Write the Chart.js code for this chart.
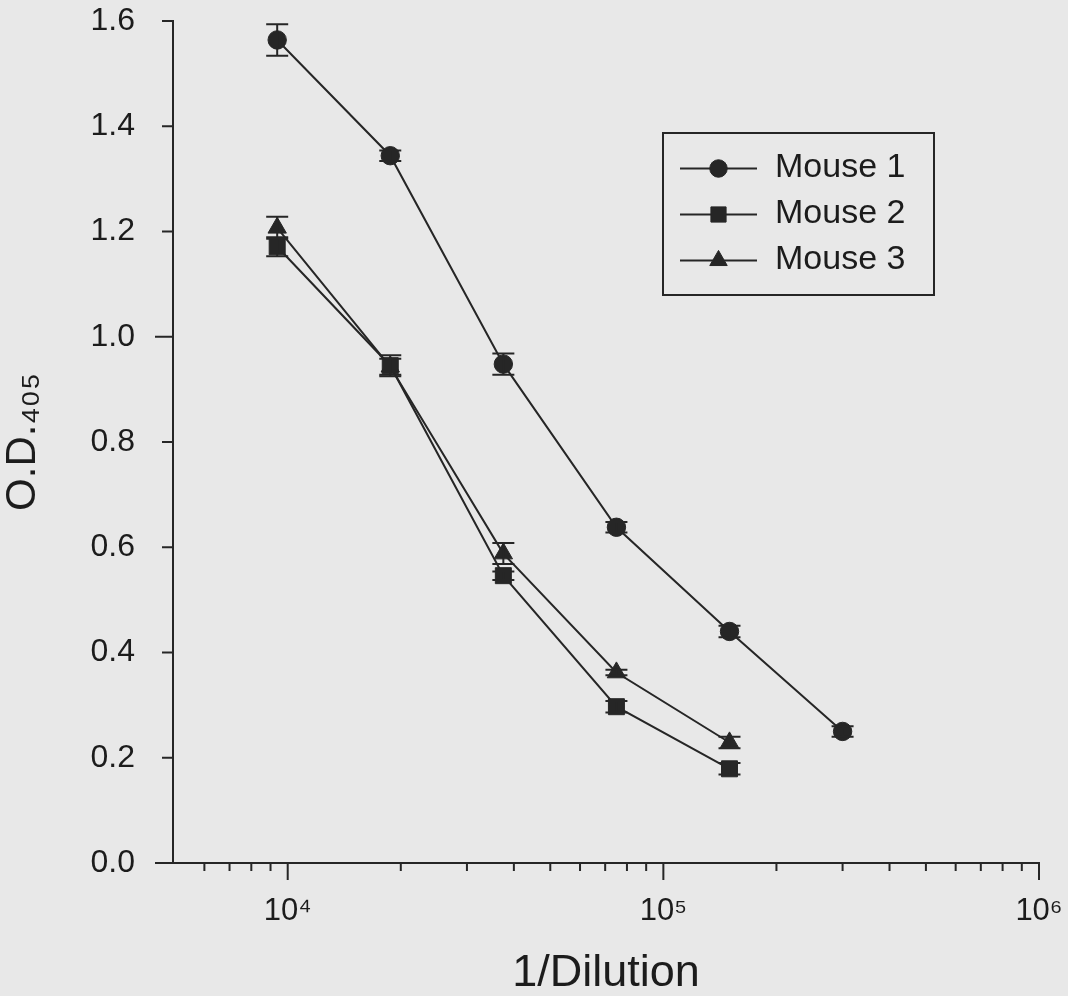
<!DOCTYPE html>
<html>
<head>
<meta charset="utf-8">
<script src="https://cdn.jsdelivr.net/npm/chart.js@4/dist/chart.umd.min.js"></script>
<style>
html,body{margin:0;padding:0;background:#e8e8e8;}
#wrap{width:1068px;height:996px;position:relative;}
</style>
</head>
<body>
<div id="wrap"><canvas id="c" width="1068" height="996"></canvas></div>
<script>
// ---------- data ----------
const dilutions = [9375, 18750, 37500, 75000, 150000, 300000];
const seriesNames = ['Mouse 1', 'Mouse 2', 'Mouse 3'];
const mouse1 = [1.564, 1.344, 0.948, 0.638, 0.440, 0.250];
const mouse1Err = [0.030, 0.010, 0.020, 0.010, 0.011, 0.010];
const mouse2 = [1.171, 0.945, 0.546, 0.297, 0.179];
const mouse2Err = [0.018, 0.020, 0.008, 0.011, 0.011];
const mouse3 = [1.207, 0.943, 0.588, 0.362, 0.229];
const mouse3Err = [0.021, 0.015, 0.020, 0.005, 0.011];
const xTickValues = [6000, 7000, 8000, 9000, 10000, 20000, 30000, 40000, 50000, 60000, 70000, 80000, 90000,
  100000, 200000, 300000, 400000, 500000, 600000, 700000, 800000, 900000, 1000000];
const xMajorTicks = [10000, 100000, 1000000];
const xTickLabels = ['10⁴', '10⁵', '10⁶'];
const yTickValues = [0, 0.2, 0.4, 0.6, 0.8, 1.0, 1.2, 1.4, 1.6];
const yLongTicks = [0, 1.0];
const xTitle = '1/Dilution';
const yTitle = 'O.D.₄₀₅';

// ---------- styles ----------
const INK = '#262626';
const TEXT = '#1c1c1c';
const FONT = "'Liberation Sans', Arial, Helvetica, sans-serif";
const markerStyles = [
  {pointStyle: 'circle', radius: 9.2},
  {pointStyle: 'rect', radius: 11.3},
  {pointStyle: 'triangle', radius: 10.6}
];

function toPoints(ys) { return ys.map((y, i) => ({x: dilutions[i], y: y})); }
const seriesValues = [mouse1, mouse2, mouse3];
const seriesErrors = [mouse1Err, mouse2Err, mouse3Err];

const datasets = seriesNames.map((name, k) => ({
  label: name,
  data: toPoints(seriesValues[k]),
  errors: seriesErrors[k],
  borderColor: INK,
  backgroundColor: INK,
  borderWidth: 2,
  pointStyle: markerStyles[k].pointStyle,
  pointRadius: markerStyles[k].radius,
  pointHoverRadius: markerStyles[k].radius,
  pointBackgroundColor: INK,
  pointBorderColor: INK,
  pointBorderWidth: 1,
  tension: 0,
  fill: false,
  clip: false
}));

// ---------- plugins ----------
const bgPlugin = {
  id: 'bg',
  beforeDraw(chart) {
    const ctx = chart.ctx;
    ctx.save();
    ctx.fillStyle = '#e8e8e8';
    ctx.fillRect(0, 0, chart.width, chart.height);
    ctx.restore();
  }
};

const tickMarkPlugin = {
  id: 'tickMarks',
  afterDraw(chart) {
    const ctx = chart.ctx;
    const xs = chart.scales.x, ys = chart.scales.y;
    const area = chart.chartArea;
    ctx.save();
    ctx.strokeStyle = INK;
    ctx.lineWidth = 2;
    ctx.beginPath();
    xTickValues.forEach(v => {
      const px = xs.getPixelForValue(v);
      const len = xMajorTicks.includes(v) ? 17 : 8;
      ctx.moveTo(px, area.bottom);
      ctx.lineTo(px, area.bottom + len);
    });
    yTickValues.forEach(v => {
      const py = ys.getPixelForValue(v);
      const len = yLongTicks.includes(v) ? 18 : 11;
      ctx.moveTo(area.left - len, py);
      ctx.lineTo(area.left, py);
    });
    ctx.stroke();
    ctx.restore();
  }
};

const errorBarPlugin = {
  id: 'errorBars',
  afterDatasetsDraw(chart) {
    const ctx = chart.ctx;
    const ys = chart.scales.y;
    ctx.save();
    ctx.strokeStyle = INK;
    ctx.lineWidth = 2;
    chart.data.datasets.forEach((ds, di) => {
      const meta = chart.getDatasetMeta(di);
      meta.data.forEach((pt, i) => {
        const v = ds.data[i].y, e = ds.errors[i];
        const top = ys.getPixelForValue(v + e);
        const bot = ys.getPixelForValue(v - e);
        const cap = 11;
        ctx.beginPath();
        ctx.moveTo(pt.x, top); ctx.lineTo(pt.x, bot);
        ctx.moveTo(pt.x - cap, top); ctx.lineTo(pt.x + cap, top);
        ctx.moveTo(pt.x - cap, bot); ctx.lineTo(pt.x + cap, bot);
        ctx.stroke();
      });
    });
    ctx.restore();
  }
};

function drawMarker(ctx, style, radius, x, y) {
  if (Chart.helpers && Chart.helpers.drawPoint) {
    Chart.helpers.drawPoint(ctx, {pointStyle: style, radius: radius, rotation: 0, borderWidth: 1}, x, y);
    return;
  }
  ctx.beginPath();
  if (style === 'circle') {
    ctx.arc(x, y, radius, 0, Math.PI * 2);
  } else if (style === 'rect') {
    const s = Math.SQRT1_2 * radius;
    ctx.rect(x - s, y - s, 2 * s, 2 * s);
  } else {
    ctx.moveTo(x, y - radius);
    ctx.lineTo(x + radius * Math.sqrt(3) / 2, y + radius / 2);
    ctx.lineTo(x - radius * Math.sqrt(3) / 2, y + radius / 2);
    ctx.closePath();
  }
  ctx.fill();
  ctx.stroke();
}

const boxLegendPlugin = {
  id: 'boxLegend',
  afterDraw(chart) {
    const ctx = chart.ctx;
    const bx = 663, by = 133, bw = 271, bh = 162;
    ctx.save();
    ctx.strokeStyle = INK;
    ctx.lineWidth = 2;
    ctx.strokeRect(bx, by, bw, bh);
    chart.data.datasets.forEach((ds, k) => {
      const ry = by + 35.5 + k * 46;
      ctx.strokeStyle = INK;
      ctx.lineWidth = 2;
      ctx.beginPath();
      ctx.moveTo(bx + 17, ry);
      ctx.lineTo(bx + 94, ry);
      ctx.stroke();
      ctx.fillStyle = INK;
      ctx.lineWidth = 1;
      drawMarker(ctx, ds.pointStyle, ds.pointRadius * 0.95, bx + 55.5, ry);
      ctx.fillStyle = TEXT;
      ctx.font = '34px ' + FONT;
      ctx.textAlign = 'left';
      ctx.textBaseline = 'middle';
      ctx.fillText(ds.label, bx + 112, ry - 1);
    });
    ctx.restore();
  }
};

// ---------- chart ----------
new Chart(document.getElementById('c'), {
  type: 'line',
  data: {datasets: datasets},
  plugins: [bgPlugin, errorBarPlugin, tickMarkPlugin, boxLegendPlugin],
  options: {
    responsive: false,
    animation: false,
    events: [],
    layout: {padding: {left: 0, top: 21, right: 29, bottom: 0}},
    plugins: {legend: {display: false}, tooltip: {enabled: false}, title: {display: false}},
    scales: {
      x: {
        type: 'logarithmic',
        min: 4950,
        max: 1000000,
        afterBuildTicks(scale) { scale.ticks = xTickValues.map(v => ({value: v, major: xMajorTicks.includes(v)})); },
        afterFit(scale) { scale.height = 133; },
        ticks: {
          autoSkip: false,
          maxRotation: 0,
          minRotation: 0,
          padding: 0,
          color: TEXT,
          font: {family: FONT, size: 31},
          callback(value) {
            const i = xMajorTicks.indexOf(value);
            return i >= 0 ? xTickLabels[i] : '';
          }
        },
        grid: {display: true, drawOnChartArea: false, drawTicks: true, tickLength: 30, tickColor: 'rgba(0,0,0,0)'},
        border: {display: true, color: INK, width: 2},
        title: {display: true, text: xTitle, color: TEXT, font: {family: FONT, size: 45, lineHeight: 1}, padding: {top: 0, bottom: 0}}
      },
      y: {
        type: 'linear',
        min: 0,
        max: 1.6,
        afterBuildTicks(scale) { scale.ticks = yTickValues.map(v => ({value: v})); },
        afterFit(scale) { scale.width = 173; },
        ticks: {
          padding: 1,
          color: TEXT,
          font: {family: FONT, size: 32},
          callback(value) { return Number(value).toFixed(1); }
        },
        grid: {display: true, drawOnChartArea: false, drawTicks: true, tickLength: 37, tickColor: 'rgba(0,0,0,0)'},
        border: {display: true, color: INK, width: 2},
        title: {display: true, text: yTitle, color: TEXT, font: {family: FONT, size: 42, lineHeight: 1}, padding: {top: 2, bottom: 0}}
      }
    }
  }
});
</script>
</body>
</html>
